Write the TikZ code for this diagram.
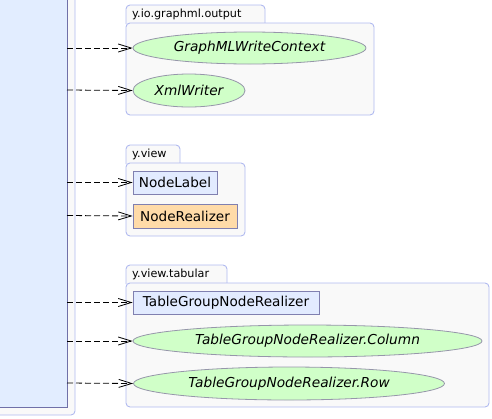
\documentclass[tikz,border=0pt]{standalone}
\usepackage{fontspec}
\setmainfont{DejaVu Sans}
\usetikzlibrary{arrows.meta,shapes.geometric}
\definecolor{grpborder}{RGB}{176,186,240}
\definecolor{grpfill}{RGB}{249,249,249}
\definecolor{bigfill}{RGB}{226,237,255}
\definecolor{bigborder}{RGB}{112,112,168}
\definecolor{ellfill}{RGB}{208,255,200}
\definecolor{ellborder}{RGB}{150,150,170}
\definecolor{boxfill}{RGB}{226,235,255}
\definecolor{boxborder}{RGB}{128,128,176}
\definecolor{orgfill}{RGB}{255,219,168}
\tikzset{
  grp/.style={draw=grpborder, fill=grpfill, line width=0.9pt, rounded corners=4pt},
  tablabel/.style={font=\fontsize{11.2}{13}\selectfont, anchor=west, inner sep=0pt},
  cls/.style={ellipse, draw=ellborder, fill=ellfill, line width=0.8pt, inner sep=0pt,
     font=\fontsize{13.7}{16}\selectfont\itshape},
  ifc/.style={rectangle, draw=boxborder, fill=boxfill, line width=0.8pt, inner sep=0pt,
     font=\fontsize{13.6}{16}\selectfont},
  dep/.style={draw=black, line width=0.8pt, dash pattern=on 6pt off 3pt,
     -{Straight Barb[length=13pt,width=8pt,line width=0.8pt]}}
}
\begin{document}
\begin{tikzpicture}[x=1pt,y=-1pt]
\useasboundingbox (0,0) rectangle (492,418);
% outer frame and big class
\draw[grp] (-10,-10) rectangle (75,415);
\path[draw=bigborder, fill=bigfill, line width=0.9pt] (-10,-10) rectangle (67,407);
\coordinate (b1) at (67,48);
\coordinate (b2) at (67,90);
\coordinate (b3) at (67,182.5);
\coordinate (b4) at (67,215.5);
\coordinate (b5) at (67,302.5);
\coordinate (b6) at (67,341);
\coordinate (b7) at (67,383);
% group 1
\draw[grp] (126,24) -- (126,5) -- (265,5) -- (265,24);
\draw[grp] (126,23) rectangle (374,115);
\node[tablabel] (t1) at (132,14.5) {y.io.graphml.output};
\node[cls, minimum width=233pt, minimum height=32pt] (n1) at (249.5,48) {GraphMLWriteContext};
\node[cls, minimum width=112pt, minimum height=33pt] (n2) at (189,90.5) {XmlWriter};
% group 2
\draw[grp] (126,164) -- (126,145) -- (180,145) -- (180,164);
\draw[grp] (126,163) rectangle (245,236);
\node[tablabel] (t2) at (132,154.5) {y.view};
\node[ifc, minimum width=84pt, minimum height=23pt] (n3) at (175,182.5) {NodeLabel};
\node[ifc, fill=orgfill, minimum width=104pt, minimum height=24pt] (n4) at (185,216) {NodeRealizer};
% group 3
\draw[grp] (126,284) -- (126,265) -- (227,265) -- (227,284);
\draw[grp] (126,283) rectangle (489,407);
\node[tablabel] (t3) at (132,274.5) {y.view.tabular};
\node[ifc, minimum width=186pt, minimum height=23pt] (n5) at (226,302.5) {TableGroupNodeRealizer};
\node[cls, minimum width=349pt, minimum height=32pt] (n6) at (307.5,341) {TableGroupNodeRealizer.Column};
\node[cls, minimum width=311pt, minimum height=33pt] (n7) at (289,383.5) {TableGroupNodeRealizer.Row};
% dependencies
\draw[dep] (b1) -- (n1.west);
\draw[dep] (b2) -- (n2.west);
\draw[dep] (b3) -- (n3.west);
\draw[dep] (b4) -- (n4.west);
\draw[dep] (b5) -- (n5.west);
\draw[dep] (b6) -- (n6.west);
\draw[dep] (b7) -- (n7.west);
\end{tikzpicture}
\end{document}
